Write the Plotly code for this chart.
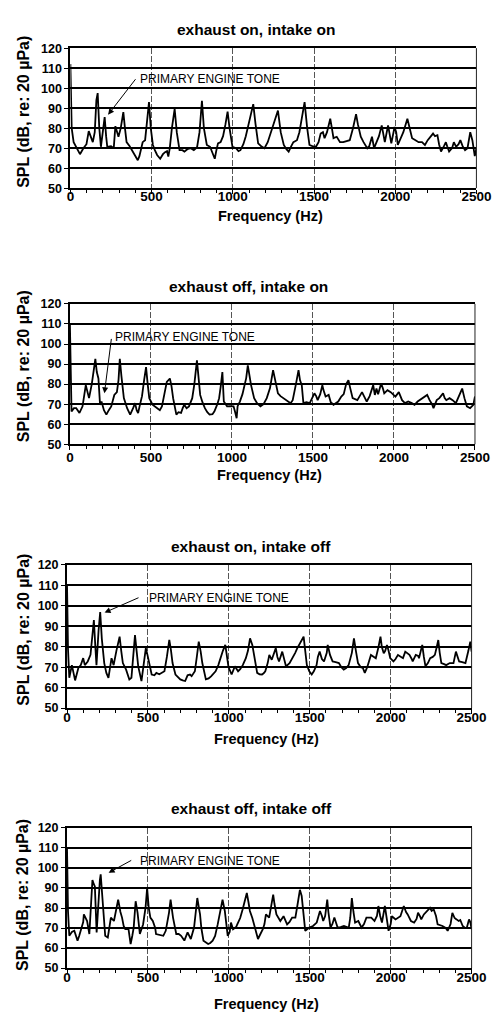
import plotly.graph_objects as go

# ---------------- data ----------------
titles = ["exhaust on, intake on", "exhaust off, intake on",
          "exhaust on, intake off", "exhaust off, intake off"]

f1 = [0, 8, 20, 40, 59, 80, 99, 113, 125, 138, 150, 160, 168, 178, 188, 200, 211, 220, 227, 250, 267, 277, 288, 296, 310, 326, 336, 346, 365, 385, 400, 415, 425, 435, 445, 460, 470, 484, 495, 508, 520, 534, 553, 570, 583, 595, 603, 612, 625, 642, 655, 672, 690, 702, 720, 741, 760, 780, 795, 810, 822, 840, 860, 875, 889, 899, 909, 925, 940, 955, 968, 980, 998, 1020, 1035, 1047, 1065, 1080, 1100, 1126, 1140, 1156, 1175, 1195, 1215, 1235, 1255, 1278, 1295, 1314, 1330, 1344, 1360, 1373, 1395, 1410, 1425, 1442, 1458, 1472, 1490, 1512, 1528, 1541, 1555, 1565, 1580, 1600, 1610, 1620, 1640, 1660, 1680, 1700, 1720, 1740, 1759, 1770, 1788, 1805, 1828, 1840, 1857, 1870, 1885, 1900, 1917, 1930, 1936, 1956, 1966, 1976, 1996, 2006, 2016, 2030, 2050, 2075, 2090, 2104, 2125, 2144, 2165, 2183, 2200, 2220, 2233, 2245, 2260, 2270, 2282, 2300, 2312, 2320, 2332, 2350, 2361, 2375, 2390, 2401, 2415, 2430, 2445, 2462, 2475, 2490, 2500]
v1 = [112, 80, 73, 70, 67, 70, 72, 78.5, 76, 73, 78, 94, 97.5, 80, 70.7, 78, 85.5, 76, 70.7, 71, 70, 81, 78, 75.7, 80, 88, 80, 73, 71, 68, 66, 64, 66, 70, 73, 74, 82, 93, 80, 71.6, 69, 66.6, 64.7, 67, 68, 68.5, 65.8, 70, 80, 89.6, 78, 69, 69, 68.3, 69.5, 70, 69, 70.5, 78, 93.7, 80, 71.6, 70.7, 68, 64.7, 69, 72.4, 73, 76, 82, 88.3, 80, 70.7, 70, 68.5, 69, 72, 76, 83, 92, 82, 72.4, 71, 70, 73, 78, 82, 88.8, 78, 71.6, 69.5, 68.3, 71, 73, 74, 78, 85, 93, 80, 71.6, 71, 70.7, 73, 77.3, 78, 75, 78, 84.7, 80, 75, 75.7, 73, 73, 73.5, 74, 80, 87, 82, 75.7, 73, 70, 71, 75.7, 70, 73, 76, 81.4, 75, 73, 81.4, 77, 72.4, 80.6, 78, 71.6, 74, 78, 84.7, 80, 75, 74, 73, 73, 71.6, 74, 76, 77.3, 76, 76.5, 72, 68.3, 71, 73, 71, 68.3, 70, 73, 70.7, 72, 74, 71, 69, 70, 78, 74, 66, 70]

f2 = [0, 6, 10, 25, 39, 59, 78, 98, 110, 118, 135, 150, 157, 166, 176, 186, 195, 210, 225, 240, 255, 274, 290, 300, 308, 318, 333, 353, 372, 390, 402, 412, 421, 430, 445, 458, 470, 480, 490, 510, 525, 539, 555, 568, 583, 598, 617, 627, 637, 647, 657, 670, 686, 696, 706, 720, 735, 755, 768, 784, 794, 804, 818, 833, 848, 862, 880, 892, 910, 921, 931, 941, 950, 970, 990, 1010, 1020, 1029, 1035, 1049, 1065, 1078, 1088, 1098, 1110, 1118, 1137, 1155, 1176, 1195, 1215, 1235, 1254, 1270, 1284, 1300, 1320, 1340, 1362, 1375, 1382, 1395, 1411, 1420, 1431, 1441, 1460, 1480, 1495, 1509, 1520, 1529, 1545, 1558, 1565, 1578, 1597, 1610, 1627, 1645, 1656, 1675, 1690, 1705, 1719, 1730, 1745, 1774, 1788, 1803, 1815, 1832, 1850, 1872, 1882, 1892, 1902, 1921, 1931, 1940, 1960, 1980, 2009, 2030, 2040, 2050, 2068, 2088, 2110, 2127, 2146, 2165, 2185, 2205, 2220, 2235, 2244, 2264, 2280, 2303, 2313, 2323, 2343, 2362, 2382, 2400, 2421, 2435, 2450, 2470, 2490, 2500]
v2 = [110, 79.5, 66.4, 68, 68, 65.6, 68.9, 79.5, 75, 73, 80, 88, 92.6, 86, 82.8, 69.7, 71.3, 67, 64.8, 67, 68.9, 74.6, 76, 82, 92.6, 84, 73, 68, 64.8, 68, 70.5, 67, 65.6, 68.9, 74, 82, 88.5, 80, 73, 69.7, 69, 68, 67, 68.9, 75, 81.1, 82.8, 79, 73, 68, 64.8, 66, 65.6, 68, 69.7, 68, 68.9, 73, 80, 91.8, 82, 74.6, 71, 68, 66, 64.8, 65, 66.4, 70, 73, 79, 86, 71.3, 68.9, 69, 68.9, 66, 63, 69, 71.3, 75, 79.5, 83, 89.3, 83, 79.5, 73, 70.5, 68.9, 70, 73, 78, 87, 80, 75.4, 74, 73, 72, 70.5, 72, 75.4, 80, 87, 82, 79.5, 70.5, 71, 70.5, 73, 75.4, 74, 72, 75, 79.5, 77, 73.8, 74.6, 71, 69.7, 71, 71.3, 73.8, 75, 80, 82, 78, 73, 72, 74, 76, 74, 71.3, 74, 79.5, 74.6, 77.8, 75, 80.3, 78, 75.4, 77, 76, 73.8, 76, 74, 72, 70.5, 71.3, 70.5, 69.7, 71.3, 72.5, 73.8, 74.6, 72, 70, 68, 72, 73, 75.4, 73, 72, 73, 72, 70.5, 74, 77.8, 73, 68.9, 68, 69.7, 73.8]

f3 = [0, 6, 14, 30, 50, 70, 85, 100, 110, 128, 145, 158, 166, 175, 182, 195, 205, 215, 230, 243, 256, 275, 288, 305, 325, 335, 345, 365, 385, 398, 410, 420, 430, 440, 460, 475, 487, 497, 507, 523, 540, 552, 570, 584, 602, 617, 632, 642, 652, 670, 690, 700, 715, 730, 745, 760, 770, 790, 802, 814, 826, 836, 858, 875, 890, 918, 935, 948, 963, 978, 988, 998, 1017, 1030, 1037, 1057, 1070, 1086, 1105, 1118, 1131, 1145, 1155, 1175, 1190, 1205, 1215, 1225, 1240, 1250, 1265, 1280, 1290, 1300, 1310, 1330, 1340, 1353, 1375, 1393, 1410, 1423, 1440, 1462, 1472, 1482, 1497, 1512, 1525, 1542, 1550, 1561, 1575, 1588, 1605, 1611, 1625, 1641, 1660, 1680, 1695, 1710, 1725, 1740, 1760, 1773, 1785, 1798, 1815, 1828, 1840, 1855, 1878, 1895, 1908, 1925, 1937, 1945, 1957, 1966, 1977, 1987, 1997, 2017, 2030, 2045, 2060, 2076, 2090, 2100, 2116, 2130, 2136, 2155, 2170, 2175, 2188, 2195, 2205, 2215, 2230, 2244, 2260, 2273, 2285, 2294, 2303, 2313, 2330, 2343, 2365, 2388, 2403, 2413, 2423, 2442, 2462, 2480, 2492, 2500]
v3 = [110.5, 79, 64.8, 71, 63.5, 69.6, 71, 74.4, 71, 72.8, 76, 88, 93, 80, 71, 88, 97, 84, 72, 67.2, 64.8, 74.4, 71, 78, 84.9, 78, 72, 68.8, 64, 64.8, 75, 85.7, 78, 70.4, 63.2, 72, 79.3, 76, 72.8, 66.4, 66, 67.2, 66.5, 67.2, 68, 75, 83.3, 78.4, 72, 66.4, 64.5, 64, 63.5, 63.2, 66, 66.4, 65.6, 68, 75, 82.5, 77.6, 72, 64, 64.5, 65.5, 68, 71, 74.4, 78, 80.9, 76, 70, 66.4, 69, 70.4, 68, 69, 71, 74.4, 78, 84.1, 80.9, 76, 67.2, 66.5, 66.4, 67, 68, 72, 76, 73.6, 77, 79.3, 75, 72.8, 77.6, 75, 70.4, 72, 74.4, 77, 79.3, 82, 84.9, 78, 71, 68, 66.4, 68, 71, 75, 77.6, 74, 72.8, 77, 80.9, 76, 72.8, 72.5, 72, 70, 68.8, 69.5, 71, 77, 84.1, 78, 72, 70, 69.6, 67.2, 70, 76, 75, 74.4, 80, 84.9, 80, 76.8, 78, 80.9, 78, 74.4, 72.8, 74, 76, 75, 74.4, 77.6, 77, 76, 74, 72.8, 76, 75.5, 74.4, 78, 80.9, 75, 70.4, 72, 74.4, 75, 76, 80, 83.3, 77, 72, 71.5, 71, 72, 72, 77.6, 75, 72.8, 72.5, 72, 78, 82.5, 77.6]

f4 = [0, 6, 14, 30, 45, 55, 65, 75, 85, 100, 104, 115, 124, 138, 150, 157, 165, 172, 183, 195, 203, 208, 215, 222, 236, 252, 262, 271, 290, 305, 316, 330, 340, 350, 360, 380, 393, 403, 412, 424, 436, 450, 462, 470, 485, 495, 505, 515, 530, 545, 550, 575, 595, 610, 622, 630, 640, 655, 675, 690, 705, 725, 745, 765, 785, 797, 805, 815, 822, 830, 843, 872, 885, 900, 915, 931, 945, 955, 961, 975, 993, 1005, 1013, 1026, 1045, 1052, 1070, 1085, 1100, 1111, 1121, 1130, 1145, 1160, 1180, 1195, 1210, 1220, 1229, 1249, 1262, 1274, 1282, 1294, 1318, 1338, 1360, 1375, 1391, 1411, 1425, 1439, 1450, 1458, 1472, 1497, 1520, 1543, 1555, 1563, 1575, 1583, 1595, 1608, 1615, 1628, 1640, 1652, 1665, 1672, 1690, 1711, 1730, 1741, 1750, 1760, 1770, 1780, 1800, 1815, 1820, 1835, 1850, 1880, 1900, 1915, 1924, 1935, 1946, 1964, 1976, 1987, 2000, 2007, 2020, 2030, 2060, 2070, 2081, 2095, 2105, 2125, 2145, 2160, 2169, 2180, 2189, 2205, 2225, 2243, 2253, 2266, 2280, 2290, 2320, 2340, 2352, 2370, 2381, 2395, 2407, 2420, 2430, 2445, 2458, 2470, 2484, 2492, 2500]
v4 = [109.7, 78.5, 66.1, 68, 68.6, 66, 63.7, 66, 68.6, 73, 76.8, 75, 73.5, 67, 85, 94, 92, 90.8, 67.8, 85, 94, 96.8, 88, 78.5, 66.1, 65.3, 70, 75.2, 73.5, 80, 84.2, 78, 75.2, 71, 69.4, 69.4, 62, 66, 70.2, 83.4, 77.6, 67, 70, 71.8, 80, 90, 80, 75.2, 73.5, 70, 67, 66.5, 66.1, 68.6, 73, 77.6, 84.2, 75.2, 67, 67, 66.1, 63.7, 67.8, 64.5, 70.2, 78, 85, 80, 76.8, 70, 63.7, 62, 62.5, 63.7, 66, 71.8, 78, 82, 84.2, 78.5, 66.1, 68, 72.7, 69.4, 70.5, 71.8, 75, 79.3, 84, 87.5, 83, 78.5, 75, 70.2, 64.5, 67, 69.4, 72, 76.8, 75.2, 82, 86.7, 82, 76.8, 73.5, 75.9, 71.8, 73, 75.2, 75.2, 82, 89.1, 86, 78.5, 68.6, 70.2, 71, 72.7, 76, 78.5, 76, 73.5, 76, 84.2, 78, 70.2, 72, 75.2, 72, 70.2, 70.5, 71, 70.5, 70.2, 75, 85, 78, 72.7, 73.5, 71, 70.2, 72, 75.2, 75.2, 73.5, 76, 81, 76, 72.7, 81, 74, 68.6, 72, 75.9, 75, 74.3, 75.9, 78, 81, 78, 76.8, 73.5, 72.7, 74.5, 77.6, 76, 74.3, 76.8, 78.5, 80.1, 78.5, 79.3, 76, 71.8, 71, 70, 68.6, 72, 77.6, 75, 74.3, 73.5, 74, 71, 70.2, 70, 74.3, 73, 69.4]

freqs = [f1, f2, f3, f4]
levels = [v1, v2, v3, v4]

x_ticks = [0, 500, 1000, 1500, 2000, 2500]
y_ticks = [50, 60, 70, 80, 90, 100, 110, 120]

# annotation: (text-left x, text y, arrow tail x, tail y, head x, head y)
tone_notes = [
    (414, 104.4, 408, 105.2, 232, 86.7),
    (267, 103.6, 257, 103.3, 213, 75.4),
    (494, 103.8, 451, 104.3, 232, 96.7),
    (436, 103.7, 406, 104.2, 257, 97.6),
]

# ---------------- layout geometry (pixels) ----------------
W, H = 502, 1028
plot_px = [  # left, right, top, bottom
    (69.0, 491.0, 41.7, 183.7),
    (68.5, 489.5, 301.0, 443.3),
    (65.5, 486.0, 565.7, 710.7),
    (65.5, 486.0, 832.3, 974.3),
]
title_y_px = [23, 283, 547, 813]
title_x_px = [262, 254, 257, 257]
xtitle_y_px = [212, 474, 742, 1011]
ytitle_y_px = [106, 364, 631, 900]
xtick_standoff = [-9, -4, -8, -8]

FONT = "Arial, Liberation Sans, sans-serif"

fig = go.Figure()
layout = dict(width=W, height=H, margin=dict(l=0, r=0, t=0, b=0),
              paper_bgcolor="white", plot_bgcolor="white", showlegend=False)
annotations = []
shapes = []

for i in range(4):
    n = "" if i == 0 else str(i + 1)
    l, r, t, b = plot_px[i]
    xd = [l / W, r / W]
    yd = [1 - b / H, 1 - t / H]
    fig.add_trace(go.Scatter(x=freqs[i], y=levels[i], mode="lines",
                             line=dict(color="black", width=1.8),
                             xaxis="x" + n, yaxis="y" + n, hoverinfo="skip"))
    layout["xaxis" + n] = dict(
        domain=xd, anchor="y" + n, range=[0, 2500],
        tickvals=x_ticks, ticktext=[str(v) for v in x_ticks],
        showgrid=True, gridcolor="#555555", gridwidth=1, griddash="6px,2px",
        showline=True, linecolor="black", linewidth=2, mirror=True,
        ticks="outside", ticklen=4, tickwidth=1, tickcolor="black",
        minor=dict(dtick=100, ticks="outside", ticklen=3, tickcolor="black", showgrid=False),
        tickfont=dict(family=FONT, size=13.5, color="black", weight="bold"),
        ticklabelstandoff=xtick_standoff[i], zeroline=False,
    )
    layout["yaxis" + n] = dict(
        domain=yd, anchor="x" + n, range=[50, 120],
        tickvals=y_ticks, ticktext=[str(v) for v in y_ticks],
        showgrid=True, gridcolor="black", gridwidth=2,
        showline=True, linecolor="black", linewidth=2,
        ticks="outside", ticklen=4, tickwidth=1, tickcolor="black",
        tickfont=dict(family=FONT, size=12.5, color="black", weight="bold"),
        zeroline=False,
    )
    # right border
    shapes.append(dict(type="line", xref="x" + n + " domain", yref="y" + n + " domain",
                       x0=1, x1=1, y0=0, y1=1, line=dict(color="#222222", width=1)))
    # subplot title
    annotations.append(dict(text=titles[i], xref="paper", yref="paper",
                            x=title_x_px[i] / W, y=1 - title_y_px[i] / H,
                            xanchor="center", yanchor="middle", showarrow=False,
                            font=dict(family=FONT, size=15.5, color="black", weight="bold")))
    # x axis title
    annotations.append(dict(text="Frequency (Hz)", xref="paper", yref="paper",
                            x=((l + r) / 2 - 3) / W, y=1 - xtitle_y_px[i] / H,
                            xanchor="center", yanchor="middle", showarrow=False,
                            font=dict(family=FONT, size=14.5, color="black", weight="bold")))
    # y axis title
    annotations.append(dict(text="SPL (dB, re: 20 µPa)", xref="paper", yref="paper",
                            x=20 / W, y=1 - ytitle_y_px[i] / H, textangle=-90,
                            xanchor="center", yanchor="middle", showarrow=False,
                            font=dict(family=FONT, size=16, color="black", weight="bold")))
    # primary engine tone label + arrow
    tx, ty, ax0, ay0, hx, hy = tone_notes[i]
    annotations.append(dict(text="PRIMARY ENGINE TONE", xref="x" + n, yref="y" + n,
                            x=tx, y=ty, xanchor="left", yanchor="middle", showarrow=False,
                            font=dict(family=FONT, size=12, color="black")))
    annotations.append(dict(text="", xref="x" + n, yref="y" + n, x=hx, y=hy,
                            axref="x" + n, ayref="y" + n, ax=ax0, ay=ay0,
                            showarrow=True, arrowhead=2, arrowsize=1.2, arrowwidth=1,
                            arrowcolor="black"))

layout["annotations"] = annotations
layout["shapes"] = shapes
fig.update_layout(**layout)
fig.write_html("out.html")
